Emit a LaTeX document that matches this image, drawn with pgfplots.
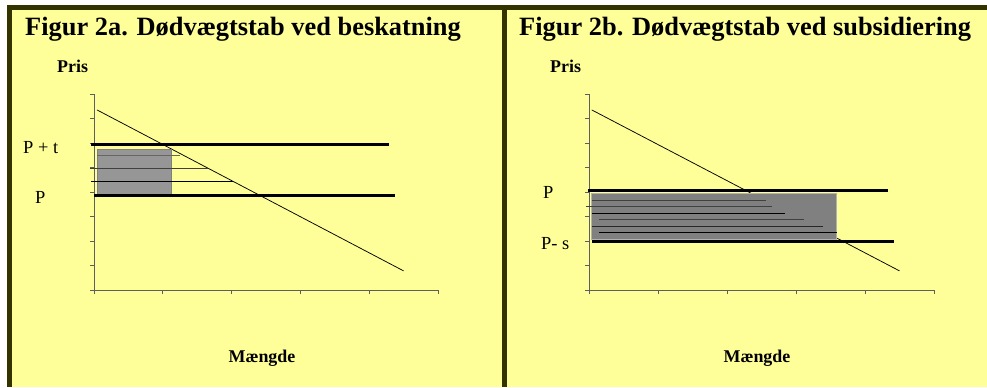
\documentclass[border=0pt]{standalone}
\usepackage{pgfplots}
\pgfplotsset{compat=1.18}
\usepackage{fontspec}
\setmainfont{Liberation Serif}

\definecolor{bgyellow}{HTML}{FFFF99}
\definecolor{frame}{HTML}{333300}
\definecolor{areaA}{HTML}{969696}
\definecolor{areaB}{HTML}{808080}
\definecolor{hatchgray}{HTML}{404040}
\definecolor{axisgray}{HTML}{5E5E5E}

\pgfplotsset{
  panel/.style={
    anchor=south west, scale only axis,
    width=344bp, height=196bp,
    xmin=0, xmax=5, ymin=0, ymax=8,
    axis x line=bottom, axis y line=left,
    axis line style={-, axisgray, line width=1bp},
    xtick={0,...,5}, ytick={0,...,8},
    xticklabels={}, yticklabels={},
    tick align=outside, major tick length=4bp,
    tick style={axisgray, line width=1bp},
    clip=false,
  },
  demand/.style={black, line width=0.75bp},
  price/.style={black, line width=3bp},
  hatch/.style={line width=1bp},
}

\newcommand{\bigtitle}{\fontsize{26.5}{30}\selectfont\bfseries}
\newcommand{\lbl}{\fontsize{18.5}{21}\selectfont}
\newcommand{\blbl}{\fontsize{18}{21}\selectfont\bfseries}

\begin{document}
\begin{tikzpicture}[x=1bp,y=1bp]
  % page, frame and the two yellow panels
  \path[use as bounding box, fill=white] (0,0) rectangle (987,387);
  \fill[frame] (7,0) rectangle (987,382);
  \fill[bgyellow] (12,0) rectangle (502,377);
  \fill[bgyellow] (507,0) rectangle (987,377);

  % ---- Figur 2a: tax ----
  \node[anchor=base west, inner sep=0] at (25,352) {\bigtitle Figur 2a. Dødvægtstab ved beskatning};
  \node[anchor=base west, inner sep=0] at (57,315) {\blbl Pris};
  \node[anchor=base west, inner sep=0] at (23,234) {\lbl P + t};
  \node[anchor=base west, inner sep=0] at (35,184) {\lbl P};
  \node[anchor=base, inner sep=0] at (262,25) {\blbl Mængde};

  \begin{axis}[panel, at={(94bp,97bp)}]
    % demand curve
    \addplot[demand] coordinates {(0.044,7.35) (4.5,0.78)};
    % deadweight area
    \addplot[fill=areaA, draw=gray, line width=0.6bp]
      coordinates {(0.044,3.92) (1.12,3.92) (1.12,5.76) (0.044,5.76)} -- cycle;
    % hatching
    \addplot[hatch, color=hatchgray!80] coordinates {(0.044,5.50) (1.25,5.50)};
    \addplot[hatch, color=hatchgray] coordinates {(-0.06,4.97) (1.65,4.97)};
    \addplot[hatch, color=black] coordinates {(-0.04,4.42) (2.02,4.42)};
    % price levels
    \addplot[price] coordinates {(-0.04,5.92) (4.29,5.92)};
    \addplot[price] coordinates {(0.0,3.84) (4.375,3.84)};
  \end{axis}

  % ---- Figur 2b: subsidy ----
  \node[anchor=base west, inner sep=0] at (519,352) {\bigtitle Figur 2b. Dødvægtstab ved subsidiering};
  \node[anchor=base west, inner sep=0] at (550,315) {\blbl Pris};
  \node[anchor=base west, inner sep=0] at (543,189) {\lbl P};
  \node[anchor=base west, inner sep=0] at (541,138) {\lbl P- s};
  \node[anchor=base, inner sep=0] at (757,25) {\blbl Mængde};

  \begin{axis}[panel, at={(589bp,97bp)}, width=345bp]
    % demand curve
    \addplot[demand] coordinates {(0.04,7.35) (4.5,0.78)};
    % deadweight area
    \addplot[fill=areaB, draw=gray!60, line width=0.6bp]
      coordinates {(0.04,2.07) (3.59,2.07) (3.59,3.93) (0.04,3.93)} -- cycle;
    % hatching
    \addplot[hatch, color=hatchgray] coordinates {(0.04,3.64) (2.56,3.64)};
    \addplot[hatch, color=hatchgray] coordinates {(-0.04,3.39) (2.65,3.39)};
    \addplot[hatch, color=black] coordinates {(0.04,3.13) (2.84,3.13)};
    \addplot[hatch, color=hatchgray] coordinates {(0.145,2.87) (3.12,2.87)};
    \addplot[hatch, color=black!85] coordinates {(0.04,2.61) (3.39,2.61)};
    \addplot[hatch, color=black] coordinates {(0.145,2.35) (3.59,2.35)};
    % price levels
    \addplot[price] coordinates {(-0.01,4.05) (4.33,4.05)};
    \addplot[price] coordinates {(0.04,1.99) (4.42,1.99)};
  \end{axis}
\end{tikzpicture}
\end{document}
